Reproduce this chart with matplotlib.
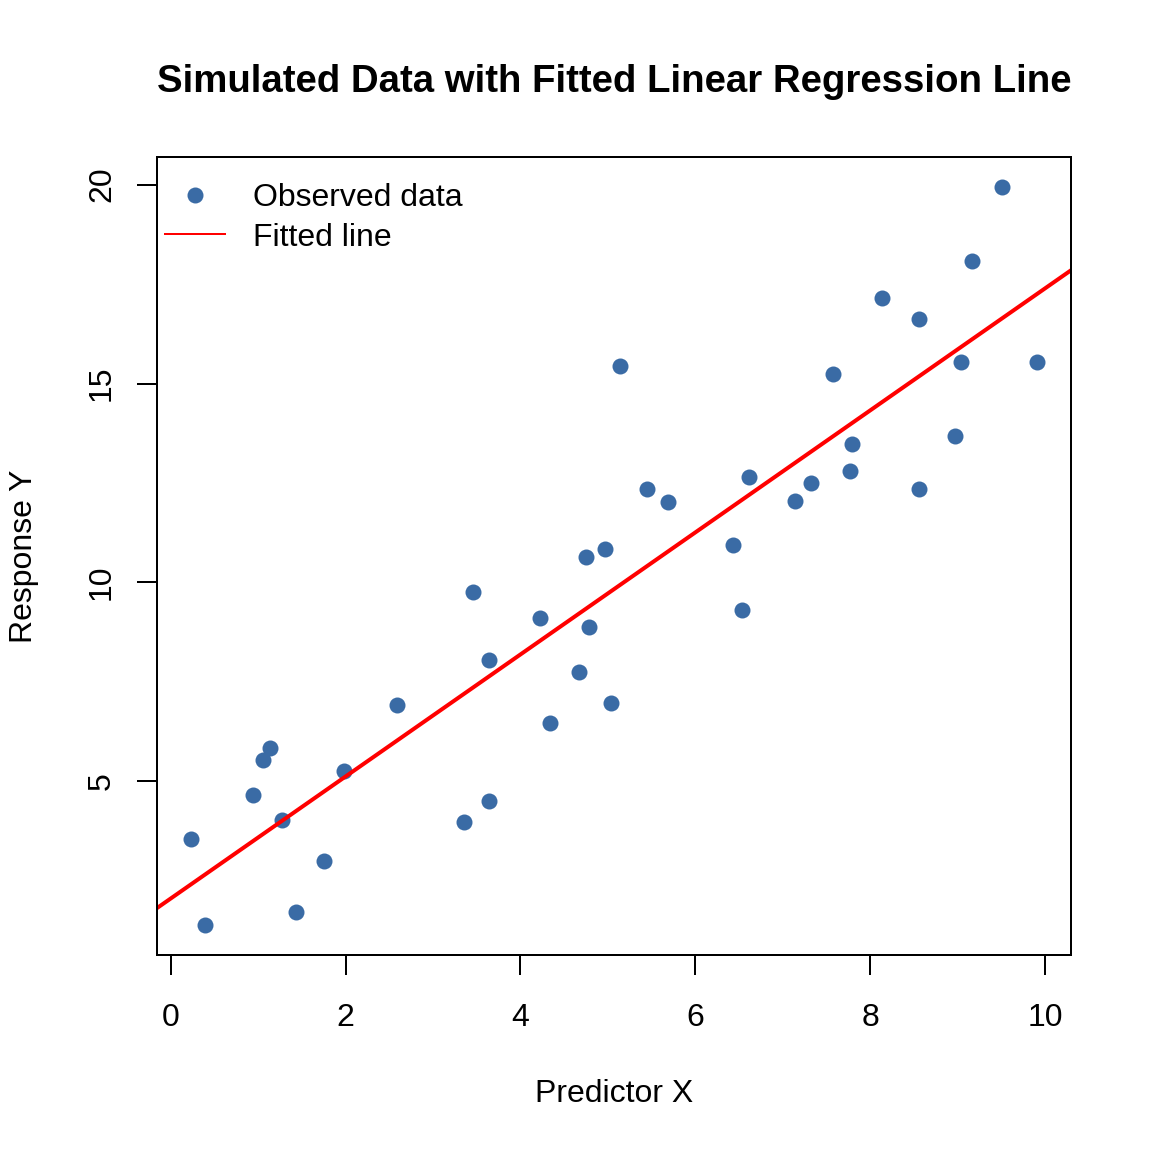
import numpy as np
import matplotlib
matplotlib.use("Agg")
import matplotlib.pyplot as plt

x = [0.23, 0.39, 0.94, 1.06, 1.13, 1.27, 1.43, 1.75, 1.98, 2.59,
     3.35, 3.46, 3.64, 3.64, 4.22, 4.34, 4.67, 4.75, 4.78, 4.97,
     5.03, 5.14, 5.45, 5.69, 6.43, 6.53, 6.61, 7.14, 7.32, 7.57,
     7.77, 7.79, 8.13, 8.56, 8.56, 8.97, 9.04, 9.16, 9.51, 9.91]
y = [3.54, 1.38, 4.67, 5.55, 5.85, 4.02, 1.71, 2.99, 5.25, 6.91,
     3.99, 9.75, 8.04, 4.52, 9.10, 6.48, 7.76, 10.63, 8.87, 10.83,
     6.96, 15.45, 12.36, 12.01, 10.93, 9.30, 12.66, 12.04, 12.51, 15.23,
     12.81, 13.49, 17.16, 16.63, 12.34, 13.67, 15.53, 18.07, 19.95, 15.53]

xticks = [0, 2, 4, 6, 8, 10]
yticks = [5, 10, 15, 20]

title = "Simulated Data with Fitted Linear Regression Line"
xlabel = "Predictor X"
ylabel = "Response Y"
labels = ["Observed data", "Fitted line"]

plt.rcParams['font.family'] = ['Liberation Sans', 'DejaVu Sans']

W = H = 1152
fig = plt.figure(figsize=(8, 8), dpi=144)
ax = fig.add_axes([157 / W, 1 - 955 / H, (1071 - 157) / W, (955 - 157) / H])

pt_color = '#3A6BA5'
ax.plot(x, y, 'o', color=pt_color, markersize=8, markeredgewidth=0, label=labels[0])


def r_range(v):
    lo, hi = min(v), max(v)
    d = 0.04 * (hi - lo)
    return lo - d, hi + d


ax.set_xlim(*r_range(x))
ax.set_ylim(*r_range(y))

slope, intercept = np.polyfit(x, y, 1)
ax.axline((0, intercept), slope=slope, color='red', linewidth=2)
ax.plot([], [], color='red', linewidth=1, label=labels[1])

ax.set_xticks(xticks)
ax.set_yticks(yticks)
ax.tick_params(labelsize=16, length=10, width=1, direction='out')
ax.tick_params(axis='x', pad=14)
ax.tick_params(axis='y', pad=10)
for lab in ax.get_yticklabels():
    lab.set_rotation(90)
    lab.set_va('center')
for s in ax.spines.values():
    s.set_linewidth(1)

leg = ax.legend(loc='upper left', bbox_to_anchor=(8 / 914, 1 - 26 / 798),
                frameon=False, fontsize=16, borderpad=0, borderaxespad=0,
                handlelength=1.875, handletextpad=0.875, labelspacing=0.3,
                numpoints=1)

fig.text(614 / W, 1 - 82 / H, title, ha='center', va='center',
         fontsize=19.2, fontweight='bold')
fig.text(614 / W, 1 - 1094 / H, xlabel, ha='center', va='center', fontsize=16)
fig.text(24 / W, 1 - 556 / H, ylabel, ha='center', va='center', fontsize=16,
         rotation=90)

fig.savefig("out.png", dpi=144)
